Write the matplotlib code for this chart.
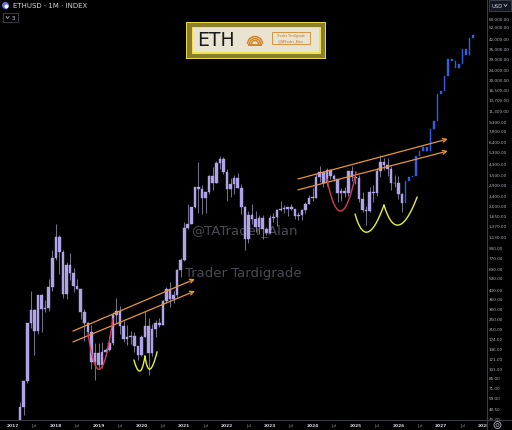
import numpy as np
import matplotlib
matplotlib.use("Agg")
import matplotlib.pyplot as plt
from matplotlib.patches import Rectangle, Ellipse, Arc
from matplotlib.lines import Line2D
from matplotlib.ticker import NullLocator

W, H = 512, 431

# monthly ETHUSD candles, Jan 2017 .. Feb 2026 (month index 0 = Jan 2017)
opens = [8.0, 10.7, 15.9, 50, 80, 231, 292, 201, 388, 302, 305, 447,
         756, 1119, 856, 397, 670, 578, 455, 433, 283, 232, 198, 113,
         133, 107, 136, 141, 162, 268, 291, 218, 172, 180, 182, 152,
         130, 180, 218, 133, 206, 231, 225, 345, 434, 360, 386, 615,
         737, 1314, 1417, 1918, 2772, 2707, 2275, 2536, 3433, 3001, 4288, 4630,
         3683, 2688, 2920, 3282, 2730, 1942, 1067, 1680, 1554, 1329, 1572, 1296,
         1196, 1585, 1605, 1822, 1870, 1875, 1934, 1857, 1645, 1671, 1815, 2050,
         2282, 2283, 3340, 3646, 3015, 3765, 3435, 3232, 2513, 2602, 2518, 3706,
         3332, 3300, 2237, 1822, 1794, 2530, 2486, 3700, 4390, 4145, 3848, 2990,
         2970, 2450]
highs = [11.5, 16.5, 55, 80, 232, 420, 300, 390, 395, 350, 520, 880,
         1420, 1160, 880, 705, 835, 630, 515, 435, 300, 235, 225, 160,
         160, 165, 147, 184, 285, 363, 315, 240, 223, 200, 195, 153,
         185, 288, 253, 227, 247, 255, 350, 445, 488, 420, 622, 760,
         1475, 2040, 1943, 2790, 4380, 2890, 2550, 3470, 4030, 4460, 4870, 4780,
         3900, 3280, 3480, 3580, 2960, 1970, 1780, 2030, 1790, 1660, 1680, 1350,
         1680, 1740, 1850, 2140, 2010, 1930, 2030, 1870, 1750, 1865, 2135, 2400,
         2715, 3520, 4090, 3730, 3975, 3890, 3560, 3240, 2730, 2770, 3740, 4110,
         3745, 3445, 2550, 1955, 2790, 2880, 3940, 4955, 4770, 4755, 4100, 3450,
         3400, 2500]
lows = [7.9, 10.3, 15.9, 43, 77, 210, 130, 190, 197, 284, 289, 417,
        730, 570, 365, 360, 505, 410, 430, 250, 167, 188, 100, 82,
        101, 102, 127, 140, 155, 230, 190, 164, 155, 157, 137, 117,
        127, 180, 90, 127, 180, 215, 225, 335, 308, 335, 374, 535,
        715, 1290, 1410, 1910, 1720, 1700, 1720, 2450, 2650, 2970, 3900, 3500,
        2160, 2300, 2450, 2720, 1700, 880, 1000, 1420, 1220, 1190, 1075, 1150,
        1190, 1460, 1370, 1785, 1740, 1625, 1830, 1550, 1530, 1520, 1745, 2040,
        2165, 2260, 3050, 2800, 2810, 3240, 3085, 2110, 2150, 2310, 2360, 3100,
        2920, 2120, 1760, 1385, 1750, 2110, 2375, 3355, 3815, 3435, 2620, 2780,
        2250, 1760]
closes = [10.7, 15.9, 50, 80, 231, 292, 201, 388, 302, 305, 447, 756,
          1119, 856, 397, 670, 578, 455, 433, 283, 232, 198, 113, 133,
          107, 136, 141, 162, 268, 291, 218, 172, 180, 182, 152, 130,
          180, 218, 133, 206, 231, 225, 345, 434, 360, 386, 615, 737,
          1314, 1417, 1918, 2772, 2707, 2275, 2536, 3433, 3001, 4288, 4630, 3683,
          2688, 2920, 3282, 2730, 1942, 1067, 1680, 1554, 1329, 1572, 1296, 1196,
          1585, 1605, 1822, 1870, 1875, 1934, 1857, 1645, 1671, 1815, 2050, 2282,
          2283, 3340, 3646, 3015, 3765, 3435, 3232, 2513, 2602, 2518, 3706, 3332,
          3300, 2237, 1822, 1794, 2530, 2486, 3700, 4390, 4145, 3848, 2990, 2970,
          2450, 2080]

# projected path, Mar 2026 .. Oct 2027
proj_open = [2080, 3110, 3340, 3400, 4900, 5400, 5790, 5380, 8040, 9300,
             15200, 16100, 21200, 28900, 27850, 24500, 26400, 34700, 31100, 42400]
proj_close = [3110, 3340, 3400, 4900, 5400, 5790, 5380, 8040, 9300, 15200,
              16100, 21200, 28900, 27850, 24500, 26400, 34700, 31100, 42400, 44800]

price_ticks = [60000, 52000, 42000, 35000, 29000, 24000, 20000, 16500, 13700, 11300,
               9300, 7800, 6400, 5300, 4300, 3500, 2900, 2400, 2000, 1650,
               1370, 1130, 930, 770, 630, 530, 430, 360, 300, 250,
               210, 174, 146, 121, 101, 85, 71, 59, 48.5, 40.7]
years = ["2017", "2018", "2019", "2020", "2021", "2022", "2023", "2024",
         "2025", "2026", "2027", "2028"]

# drawings (month index, price)
chan1_x = [16.8, 51.0]
chan1_up = [200, 518]
chan1_lo = [164, 416]
chan2_x = [79.9, 121.9]
chan2_up = [3226, 6697]
chan2_lo = [2643, 5376]
red_cups = [[(21.0, 193), (24.4, 100), (28.0, 250)],
            [(88.0, 3226), (92.0, 1796), (96.2, 3663)]]
yellow_cups = [[(33.9, 118), (35.6, 96.5), (37.0, 127)],
               [(37.0, 127), (38.4, 100), (40.4, 137)],
               [(95.9, 1700), (99.5, 1224), (104.0, 2005)],
               [(104.0, 2005), (108.2, 1391), (113.3, 2320)]]

BG = "#000000"
BODY = "#b0a3e8"
WICK = "#77738f"
BLUE = "#2f5fe0"
ORANGE = "#e8963a"
AXIS_TXT = "#b2b5be"
SEP = "#3a3d46"


def fx(x):
    return x / W


def fy(y):
    return 1 - y / H


def cup(p0, pb, p2, n=40):
    # quadratic curve through p0, pb (at t=.5), p2 in (month, log price) space
    a = np.array([p0[0], np.log10(p0[1])])
    b = np.array([pb[0], np.log10(pb[1])])
    c = np.array([p2[0], np.log10(p2[1])])
    ctrl = 2 * b - (a + c) / 2
    t = np.linspace(0, 1, n)[:, None]
    pts = (1 - t) ** 2 * a + 2 * (1 - t) * t * ctrl + t ** 2 * c
    return pts[:, 0], 10 ** pts[:, 1]


fig = plt.figure(figsize=(W / 100, H / 100), dpi=100, facecolor=BG)
ax = fig.add_axes([0, fy(421), fx(487), 421 / H])
ax.set_facecolor(BG)
ax.set_yscale("log")
ax.set_xlim(-13 / 3.567, 474 / 3.567)
ax.set_ylim(39.4, 86460)
for s in ax.spines.values():
    s.set_visible(False)

# historical candles
o = np.array(opens, float)
h = np.array(highs, float)
l = np.array(lows, float)
c = np.array(closes, float)
m = np.arange(len(o))
top = np.maximum(o, c)
bot = np.minimum(o, c)
top = np.where(top / bot < 1.012, bot * 1.012, top)
ax.vlines(m, l, h, color=WICK, lw=0.7, zorder=2)
ax.bar(m, top - bot, bottom=bot, width=0.72, color=BODY, edgecolor=BODY,
       lw=0.3, zorder=3)

# projection bars
po = np.array(proj_open, float)
pc = np.array(proj_close, float)
pm = np.arange(len(po)) + len(o)
ptop = np.maximum(po, pc)
pbot = np.minimum(po, pc)
ptop = np.where(ptop / pbot < 1.015, pbot * 1.015, ptop)
ax.bar(pm, ptop - pbot, bottom=pbot, width=0.45, color=BLUE, edgecolor=BLUE,
       lw=0.3, zorder=3)

# channels
for xs, ys in [(chan1_x, chan1_up), (chan1_x, chan1_lo),
               (chan2_x, chan2_up), (chan2_x, chan2_lo)]:
    ax.annotate("", xy=(xs[1], ys[1]), xytext=(xs[0], ys[0]),
                arrowprops=dict(arrowstyle="->", color=ORANGE, lw=0.9,
                                mutation_scale=7, shrinkA=0, shrinkB=0),
                zorder=4)

for p in red_cups:
    xx, yy = cup(*p)
    ax.plot(xx, yy, color="#d23c5f", lw=1.0, zorder=4, solid_capstyle="round")
for p in yellow_cups:
    xx, yy = cup(*p)
    ax.plot(xx, yy, color="#e6f03c", lw=1.0, zorder=4, solid_capstyle="round")

# watermark
ax.text(fx(244), fy(231), "@TATrader_Alan", transform=fig.transFigure,
        ha="center", va="center", fontsize=9.5, color="#4a4a55", zorder=1)
ax.text(fx(243), fy(273), "Trader Tardigrade", transform=fig.transFigure,
        ha="center", va="center", fontsize=9.5, color="#4a4a55", zorder=1)

# axes ticks
ax.yaxis.tick_right()
ax.set_yticks(price_ticks)
ax.set_yticklabels([f"{v:,.2f}" for v in price_ticks])
ax.yaxis.set_minor_locator(NullLocator())
ax.tick_params(axis="y", length=0, pad=1.5, labelsize=3.0, colors=AXIS_TXT)

xt = np.arange(0, 133, 6)
ax.set_xticks(xt)
xl = []
for k in xt:
    xl.append(years[k // 12] if k % 12 == 0 else "Jul")
ax.set_xticklabels(xl)
ax.xaxis.set_minor_locator(NullLocator())
ax.tick_params(axis="x", length=0, pad=2.5, labelsize=3.2, colors=AXIS_TXT)
for lab, k in zip(ax.get_xticklabels(), xt):
    if k % 12 == 0:
        lab.set_fontweight("bold")
        lab.set_color("#d1d4dc")
    else:
        lab.set_color("#8a8d96")

# cover the clipped year label under the price scale
fig.patches.append(Rectangle((fx(487.5), 0), 1 - fx(487.5), fy(421.5),
                             transform=fig.transFigure, facecolor=BG,
                             edgecolor="none", zorder=5))

# separators
fig.lines.append(Line2D([fx(487), fx(487)], [0, 1], transform=fig.transFigure,
                        color=SEP, lw=0.8, zorder=6))
fig.lines.append(Line2D([0, 1], [fy(421), fy(421)], transform=fig.transFigure,
                        color=SEP, lw=0.8, zorder=6))

# gear icon
fig.patches.append(Ellipse((fx(497.5), fy(426)), 7 / W, 7 / H, transform=fig.transFigure,
                           facecolor="none", edgecolor=AXIS_TXT, lw=0.6, zorder=7))
fig.patches.append(Ellipse((fx(497.5), fy(426)), 3 / W, 3 / H, transform=fig.transFigure,
                           facecolor="none", edgecolor=AXIS_TXT, lw=0.5, zorder=7))

# USD box
fig.patches.append(Rectangle((fx(489), fy(12)), 22 / W, 11 / H, transform=fig.transFigure,
                             facecolor="#131722", edgecolor="#50535e", lw=0.5, zorder=7))
fig.text(fx(491), fy(6.5), "USD", fontsize=3.8, color="#d1d4dc", va="center", zorder=8)
fig.lines.append(Line2D([fx(504), fx(505.5), fx(507)], [fy(5.5), fy(7.5), fy(5.5)],
                        transform=fig.transFigure, color="#d1d4dc", lw=0.5, zorder=8))

# header
fig.patches.append(Ellipse((fx(5.5), fy(6.5)), 7 / W, 7 / H, transform=fig.transFigure,
                           facecolor="#6570d8", edgecolor="none", zorder=7))
fig.lines.append(Line2D([fx(5.5)], [fy(6.5)], transform=fig.transFigure, marker="D",
                        markersize=1.6, color="white", lw=0, zorder=8))
fig.text(fx(13), fy(6.5), "ETHUSD \u00b7 1M \u00b7 INDEX", fontsize=5, color="#d1d4dc",
         va="center", zorder=8)
fig.patches.append(Rectangle((fx(3), fy(23)), 15 / W, 9 / H, transform=fig.transFigure,
                             facecolor="none", edgecolor="#50535e", lw=0.5, zorder=7))
fig.lines.append(Line2D([fx(6), fx(7.5), fx(9)], [fy(17.5), fy(19.5), fy(17.5)],
                        transform=fig.transFigure, color="#d1d4dc", lw=0.5, zorder=8))
fig.text(fx(12), fy(18.5), "3", fontsize=4, color="#d1d4dc", va="center", zorder=8)

# ETH badge
fig.patches.append(Rectangle((fx(186), fy(59.5)), 140 / W, 37 / H, transform=fig.transFigure,
                             facecolor="#e8d84a", edgecolor="none", zorder=7))
fig.patches.append(Rectangle((fx(187), fy(58.5)), 138 / W, 35 / H, transform=fig.transFigure,
                             facecolor="#8a7d2c", edgecolor="none", zorder=7))
fig.patches.append(Rectangle((fx(191.5), fy(54.5)), 129 / W, 27 / H, transform=fig.transFigure,
                             facecolor="#f0e24a", edgecolor="none", zorder=7))
fig.patches.append(Rectangle((fx(193), fy(53)), 126 / W, 24 / H, transform=fig.transFigure,
                             facecolor="#e9e3d2", edgecolor="none", zorder=7))
fig.text(fx(197), fy(40.5), "ETH", fontsize=13.5, color="#1a1a1a", va="center",
         ha="left", zorder=8)
for r in [7.5, 5.5, 3.5]:
    fig.patches.append(Arc((fx(255), fy(45)), 2 * r / W, 2 * r / H, theta1=0, theta2=180,
                           transform=fig.transFigure, color="#d4862c", lw=1.1, zorder=8))
fig.patches.append(Rectangle((fx(248), fy(47)), 14 / W, 2 / H, transform=fig.transFigure,
                             facecolor="#d4862c", edgecolor="none", zorder=8))
fig.patches.append(Rectangle((fx(272), fy(45)), 38 / W, 12 / H, transform=fig.transFigure,
                             facecolor="none", edgecolor="#d4862c", lw=0.6, zorder=8))
fig.text(fx(291), fy(36.5), "Trader Tardigrade", fontsize=2.3, color="#c97a28",
         ha="center", va="center", zorder=9)
fig.text(fx(291), fy(41.5), "@TATrader_Alan", fontsize=2.3, color="#c97a28",
         ha="center", va="center", zorder=9)

fig.savefig("out.png", dpi=100, facecolor=BG)
